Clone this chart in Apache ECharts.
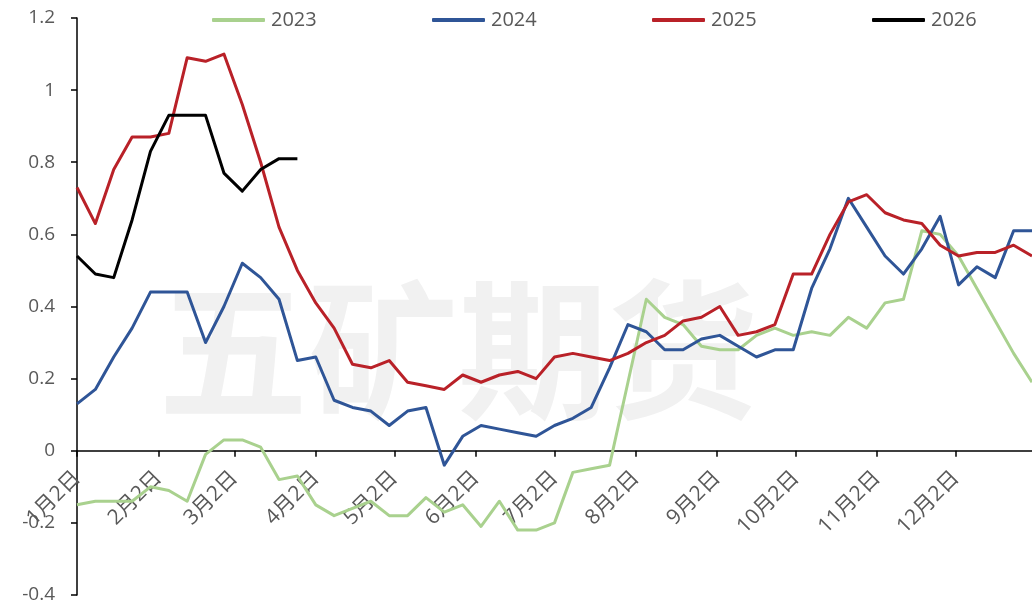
<!DOCTYPE html>
<html><head><meta charset="utf-8">
<script src="https://cdn.jsdelivr.net/npm/echarts@6/dist/echarts.min.js"></script>
<style>html,body{margin:0;padding:0;background:#fff}#c{width:1032px;height:606px}</style>
</head><body><div id="c"></div>
<script>
// ---- data ----
const seriesNames = ['2023', '2024', '2025', '2026'];
const seriesColors = ['#A9D18E', '#2F5597', '#B92128', '#000000'];
const axisStart = '2024-01-02';
const axisEnd = '2024-12-31';
const stepDays = 7; // weekly observations
const tickDates = ['2024-01-02','2024-02-02','2024-03-02','2024-04-02','2024-05-02','2024-06-02',
                   '2024-07-02','2024-08-02','2024-09-02','2024-10-02','2024-11-02','2024-12-02'];
const monthLabels = ['1月2日','2月2日','3月2日','4月2日','5月2日','6月2日',
                     '7月2日','8月2日','9月2日','10月2日','11月2日','12月2日'];
const yTicks = { min: -0.4, max: 1.2, interval: 0.2 };

const s2023 = [-0.15,-0.14,-0.14,-0.14,-0.10,-0.11,-0.14,-0.01,0.03,0.03,
               0.01,-0.08,-0.07,-0.15,-0.18,-0.16,-0.14,-0.18,-0.18,-0.13,
               -0.17,-0.15,-0.21,-0.14,-0.22,-0.22,-0.20,-0.06,-0.05,-0.04,
               0.19,0.42,0.37,0.35,0.29,0.28,0.28,0.32,0.34,0.32,
               0.33,0.32,0.37,0.34,0.41,0.42,0.61,0.60,0.54,0.45,
               0.36,0.27,0.19];
const s2024 = [0.13,0.17,0.26,0.34,0.44,0.44,0.44,0.30,0.40,0.52,
               0.48,0.42,0.25,0.26,0.14,0.12,0.11,0.07,0.11,0.12,
               -0.04,0.04,0.07,0.06,0.05,0.04,0.07,0.09,0.12,0.23,
               0.35,0.33,0.28,0.28,0.31,0.32,0.29,0.26,0.28,0.28,
               0.45,0.56,0.70,0.62,0.54,0.49,0.56,0.65,0.46,0.51,
               0.48,0.61,0.61];
const s2025 = [0.73,0.63,0.78,0.87,0.87,0.88,1.09,1.08,1.10,0.96,
               0.80,0.62,0.50,0.41,0.34,0.24,0.23,0.25,0.19,0.18,
               0.17,0.21,0.19,0.21,0.22,0.20,0.26,0.27,0.26,0.25,
               0.27,0.30,0.32,0.36,0.37,0.40,0.32,0.33,0.35,0.49,
               0.49,0.60,0.69,0.71,0.66,0.64,0.63,0.57,0.54,0.55,
               0.55,0.57,0.54];
const s2026 = [0.54,0.49,0.48,0.64,0.83,0.93,0.93,0.93,0.77,0.72,
               0.78,0.81,0.81];
const allSeries = [s2023, s2024, s2025, s2026];

// ---- build ----
const DAY = 86400000;
const t0 = Date.parse(axisStart);
const dayOf = d => Math.round((Date.parse(d) - t0) / DAY);
const tickDays = tickDates.map(dayOf);
const maxDay = dayOf(axisEnd);
const toPairs = arr => arr.map((v, i) => [i * stepDays, v]);

const FONT = '"Open Sans", "Noto Sans CJK SC", sans-serif';
const TXT = '#595959';
const W = 1032, H = 606;
const GRID = { left: 77, right: 0, top: 18, bottom: 11 };
const gridH = H - GRID.top - GRID.bottom;
// lift the date axis so it sits on the zero line
const xOffset = -gridH * (0 - yTicks.min) / (yTicks.max - yTicks.min);

const chart = echarts.init(document.getElementById('c'), null, { renderer: 'canvas' });
const legendLefts = [212, 432, 652, 872];
chart.setOption({
  animation: false,
  backgroundColor: '#ffffff',
  graphic: [{
    type: 'text', z: -10, silent: true,
    x: 458, y: 350,
    style: {
      text: '五矿期货', x: 0, y: 0, fill: '#f1f1f1',
      font: 'bold 150px "Noto Sans CJK SC"', textAlign: 'center', textVerticalAlign: 'middle'
    }
  }],
  legend: seriesNames.map((n, i) => ({
    data: [n], left: legendLefts[i], top: 10, padding: 0,
    icon: 'roundRect', itemWidth: 53, itemHeight: 4, itemGap: 0,
    textStyle: { color: TXT, fontSize: 20, fontFamily: FONT, padding: [0, 0, 0, 1] }
  })),
  grid: Object.assign({ containLabel: false, outerBoundsMode: 'none' }, GRID),
  xAxis: {
    type: 'value', min: 0, max: maxDay, offset: xOffset,
    axisLine: { onZero: false, lineStyle: { color: '#000', width: 1.5 } },
    axisTick: { show: true, inside: false, length: 6, customValues: tickDays, lineStyle: { color: '#000', width: 1.5 } },
    axisLabel: {
      customValues: tickDays, rotate: 45, margin: 24,
      color: TXT, fontSize: 21, fontFamily: FONT,
      formatter: v => monthLabels[tickDays.indexOf(Math.round(v))] || ''
    },
    splitLine: { show: false }
  },
  yAxis: {
    type: 'value', min: yTicks.min, max: yTicks.max, interval: yTicks.interval,
    axisLine: { show: true, onZero: false, lineStyle: { color: '#000', width: 1.5 } },
    axisTick: { show: true, inside: false, length: 6, lineStyle: { color: '#000', width: 1.5 } },
    axisLabel: {
      color: TXT, fontSize: 19, fontFamily: FONT, margin: 22,
      formatter: v => String(Math.round(v * 10) / 10)
    },
    splitLine: { show: false }
  },
  series: seriesNames.map((n, i) => ({
    name: n, type: 'line', data: toPairs(allSeries[i]),
    symbol: 'none', showSymbol: false, smooth: false,
    color: seriesColors[i],
    lineStyle: { color: seriesColors[i], width: 3, join: 'round' },
    z: 2 + i
  }))
});
</script></body></html>
